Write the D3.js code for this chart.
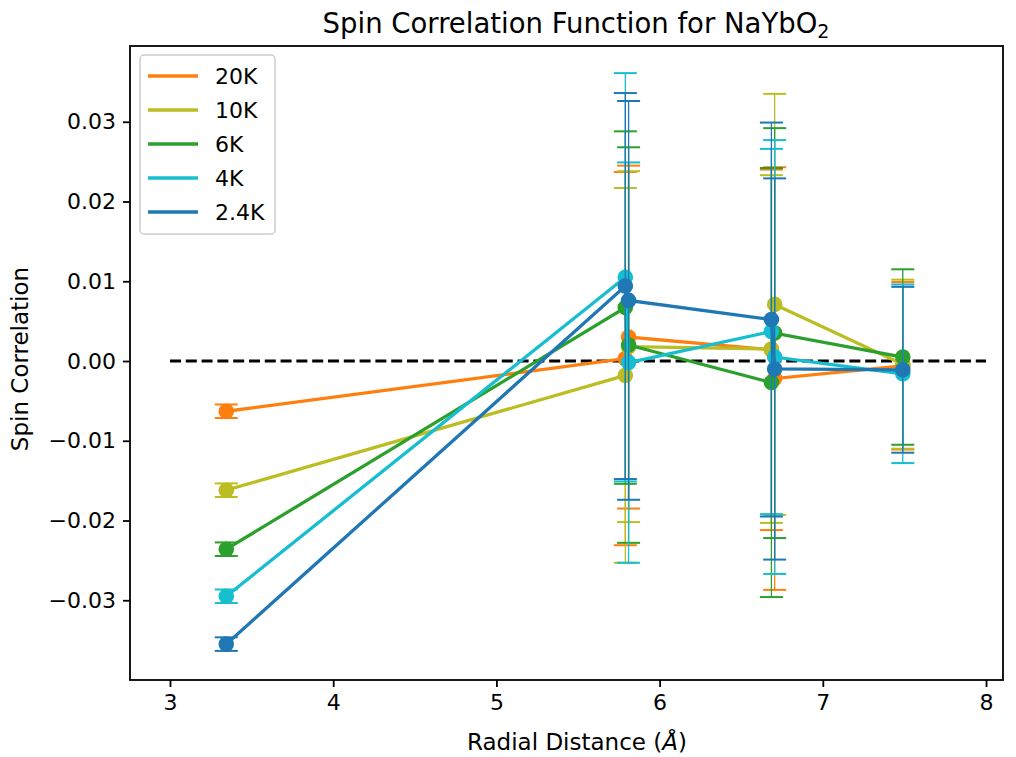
<!DOCTYPE html>
<html>
<head>
<meta charset="utf-8">
<script src="https://cdn.jsdelivr.net/npm/d3@7"></script>
<style>
  body { margin: 0; background: #fff; }
  svg { font-family: "DejaVu Sans", sans-serif; }
</style>
</head>
<body>
<div id="chart"></div>
<script>
// radial distances (Å) shared by every temperature
const distances = [3.345, 5.79, 5.81, 6.685, 6.705, 7.49];

const labels = ["20K", "10K", "6K", "4K", "2.4K"];
const colors = ["#ff7f0e", "#bcbd22", "#2ca02c", "#17becf", "#1f77b4"];

const corr20K  = [-0.0063,  0.0003,  0.0030,  0.0014, -0.0022, -0.0006];
const corr10K  = [-0.0162, -0.0018,  0.0018,  0.0015,  0.0071, -0.0004];
const corr6K   = [-0.0236,  0.0067,  0.0020, -0.0027,  0.0035,  0.0005];
const corr4K   = [-0.0295,  0.0105, -0.0002,  0.0037,  0.0005, -0.0016];
const corr2_4K = [-0.0355,  0.0094,  0.0076,  0.0052, -0.0010, -0.0011];

const err20K  = [0.00085, 0.0234, 0.0215, 0.0226, 0.0265, 0.0105];
const err10K  = [0.00085, 0.0235, 0.0220, 0.0218, 0.0264, 0.0106];
const err6K   = [0.00085, 0.0221, 0.0248, 0.0269, 0.0257, 0.0110];
const err4K   = [0.00085, 0.0256, 0.0251, 0.0229, 0.0272, 0.0112];
const err2_4K = [0.00085, 0.0242, 0.0250, 0.0247, 0.0239, 0.0104];

const xTicks = [3, 4, 5, 6, 7, 8];
const yTicks = [-0.03, -0.02, -0.01, 0.00, 0.01, 0.02, 0.03];

const seriesValues = [corr20K, corr10K, corr6K, corr4K, corr2_4K];
const seriesErrors = [err20K, err10K, err6K, err4K, err2_4K];

const width = 1016, height = 757;
const margin = { left: 130, right: 13, top: 46, bottom: 77 };

const xScale = d3.scaleLinear()
                .domain([2.755, 8.104])
                .range([margin.left, width - margin.right]);

const yScale = d3.scaleLinear()
                .domain([-0.0400, 0.0395])
                .range([height - margin.bottom, margin.top]);

const svg = d3.select("#chart").append("svg")
                .attr("width", width)
                .attr("height", height);

// zero reference line
svg.append("line")
    .attr("x1", xScale(3)).attr("x2", xScale(8))
    .attr("y1", yScale(0)).attr("y2", yScale(0))
    .attr("stroke", "#000")
    .attr("stroke-width", 3)
    .attr("stroke-dasharray", "11,4.8");

const capHalf = 11.5;

seriesValues.forEach(function(vals, i) {
    const errs = seriesErrors[i];
    const pts = distances.map(function(d, j) { return { x: d, y: vals[j], e: errs[j] }; });
    const g = svg.append("g").attr("class", "series");

    const bars = g.selectAll(".err").data(pts).enter().append("g");
    bars.append("line")
        .attr("x1", d => xScale(d.x)).attr("x2", d => xScale(d.x))
        .attr("y1", d => yScale(d.y - d.e)).attr("y2", d => yScale(d.y + d.e))
        .attr("stroke", colors[i])
        .attr("stroke-width", 1.3);
    [-1, 1].forEach(function(s) {
        bars.append("line")
            .attr("x1", d => xScale(d.x) - capHalf).attr("x2", d => xScale(d.x) + capHalf)
            .attr("y1", d => yScale(d.y + s * d.e)).attr("y2", d => yScale(d.y + s * d.e))
            .attr("stroke", colors[i])
            .attr("stroke-width", 2);
    });

    const line = d3.line()
                    .x(d => xScale(d.x))
                    .y(d => yScale(d.y));

    g.append("path")
        .datum(pts)
        .attr("d", line)
        .attr("fill", "none")
        .attr("stroke", colors[i])
        .attr("stroke-width", 3.3);

    g.selectAll(".dot").data(pts).enter().append("circle")
        .attr("cx", d => xScale(d.x))
        .attr("cy", d => yScale(d.y))
        .attr("r", 7.8)
        .attr("fill", colors[i]);
});

// axes
const xAxis = d3.axisBottom(xScale).tickValues(xTicks).tickSizeOuter(0).tickSize(7).tickPadding(7)
                .tickFormat(d3.format("d"));
const yAxis = d3.axisLeft(yScale).tickValues(yTicks).tickSizeOuter(0).tickSize(7).tickPadding(7)
                .tickFormat(d => d3.format(".2f")(d).replace("-", "\u2212"));

const gx = svg.append("g")
    .attr("transform", `translate(0,${height - margin.bottom})`)
    .call(xAxis);
const gy = svg.append("g")
    .attr("transform", `translate(${margin.left},0)`)
    .call(yAxis);

[gx, gy].forEach(function(a) {
    a.select(".domain").remove();
    a.selectAll(".tick line").attr("stroke", "#000").attr("stroke-width", 1.8);
    a.selectAll(".tick text").attr("fill", "#000").style("font-size", "22px")
        .style("font-family", "DejaVu Sans");
});

// frame
svg.append("rect")
    .attr("x", margin.left).attr("y", margin.top)
    .attr("width", width - margin.left - margin.right)
    .attr("height", height - margin.top - margin.bottom)
    .attr("fill", "none")
    .attr("stroke", "#000")
    .attr("stroke-width", 1.8);

// title
const title = svg.append("text")
    .attr("x", 576)
    .attr("y", 33)
    .attr("text-anchor", "middle")
    .style("font-size", "27.5px");
title.append("tspan").text("Spin Correlation Function for NaYbO");
title.append("tspan").attr("dy", 5).style("font-size", "19px").text("2");

// axis labels
const xl = svg.append("text")
    .attr("x", 577)
    .attr("y", 750)
    .attr("text-anchor", "middle")
    .style("font-size", "23px");
xl.append("tspan").text("Radial Distance (");
xl.append("tspan").style("font-style", "italic").text("Å");
xl.append("tspan").text(")");

svg.append("text")
    .attr("transform", `translate(28,359) rotate(-90)`)
    .attr("text-anchor", "middle")
    .style("font-size", "23px")
    .text("Spin Correlation");

// legend
const legend = svg.append("g").attr("transform", "translate(140,55)");
legend.append("rect")
    .attr("width", 135).attr("height", 179)
    .attr("rx", 4)
    .attr("fill", "#fff").attr("fill-opacity", 0.8)
    .attr("stroke", "#ccc").attr("stroke-width", 1.5);

labels.forEach(function(lab, i) {
    const yy = 21 + i * 34;
    legend.append("line")
        .attr("x1", 8).attr("x2", 58)
        .attr("y1", yy).attr("y2", yy)
        .attr("stroke", colors[i]).attr("stroke-width", 3.3);
    legend.append("text")
        .attr("x", 75).attr("y", yy + 8)
        .style("font-size", "22px")
        .text(lab);
});
</script>
</body>
</html>
